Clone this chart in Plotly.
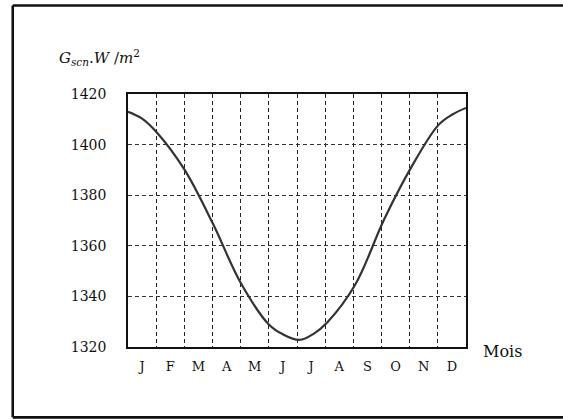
import plotly.graph_objects as go

# Data (x in months from 1 Jan, 0..12)
month_pos = [0, 0.5, 1.0, 2.0, 3.0, 4.0, 5.0, 5.5, 6.08, 6.6, 7.08, 8.07, 9.1, 10.08, 11.01, 11.5, 12.0]
g_scn = [1413.0, 1410.3, 1405.1, 1390.2, 1369.1, 1345.4, 1328.9, 1325.0, 1322.8, 1325.3,
         1329.8, 1344.7, 1370.6, 1391.5, 1407.6, 1411.8, 1414.5]

month_labels = ["J", "F", "M", "A", "M", "J", "J", "A", "S", "O", "N", "D"]
month_centers = [i + 0.5 for i in range(12)]
y_ticks = [1320, 1340, 1360, 1380, 1400, 1420]

FONT = "DejaVu Serif"

fig = go.Figure()
fig.add_trace(go.Scatter(
    x=month_pos, y=g_scn, mode="lines",
    line=dict(color="#333333", width=2.2, shape="spline", smoothing=1.0),
    hoverinfo="skip", showlegend=False,
))

fig.update_layout(
    width=563, height=419,
    margin=dict(l=128, r=97, t=94, b=72),
    paper_bgcolor="white", plot_bgcolor="white",
    font=dict(family=FONT, size=14, color="#111111"),
    showlegend=False,
    xaxis=dict(
        range=[0, 12], tickmode="array", tickvals=month_centers, ticktext=month_labels,
        showgrid=False, zeroline=False, ticks="", ticklabelstandoff=7,
        showline=True, mirror=True, linecolor="#111111", linewidth=1.5,
        tickfont=dict(family=FONT, size=13, color="#111111"),
        minor=dict(tickmode="array", tickvals=list(range(1, 12)), showgrid=True,
                   gridcolor="#222222", gridwidth=1, griddash="4px,3px", ticks=""),
    ),
    yaxis=dict(
        range=[1320, 1420], tickmode="array", tickvals=y_ticks,
        showgrid=True, gridcolor="#333333", gridwidth=1, griddash="4px,3px",
        zeroline=False, ticks="", ticklabelstandoff=17,
        showline=True, mirror=True, linecolor="#111111", linewidth=1.5,
        tickfont=dict(family=FONT, size=14, color="#111111"),
    ),
)

# Outer frame: top, left and bottom edges, running to the right edge of the picture
frame = dict(color="#111111", width=2.6)
fig.add_shape(type="line", xref="paper", yref="paper", x0=-0.341, x1=1.29, y0=1.35, y1=1.35, line=frame)
fig.add_shape(type="line", xref="paper", yref="paper", x0=-0.341, x1=-0.341, y0=-0.278, y1=1.35, line=frame)
fig.add_shape(type="line", xref="paper", yref="paper", x0=-0.341, x1=1.29, y0=-0.278, y1=-0.278, line=frame)

# Axis titles
fig.add_annotation(xref="paper", yref="paper", x=-0.21, y=1.143, xanchor="left", yanchor="middle",
                   text="<i>G</i><sub><i>scn</i></sub>.<i>W</i> /<i>m</i><sup>2</sup>",
                   showarrow=False, font=dict(family=FONT, size=15, color="#111111"))
fig.add_annotation(xref="paper", yref="paper", x=1.045, y=-0.018, xanchor="left", yanchor="middle",
                   text="Mois", showarrow=False, font=dict(family=FONT, size=16, color="#111111"))

fig.write_html(
    "out.html", config={"displayModeBar": False},
    post_script=("document.body.style.margin='0';"
                 "document.body.style.overflow='hidden';"
                 "document.documentElement.style.overflow='hidden';"),
)
